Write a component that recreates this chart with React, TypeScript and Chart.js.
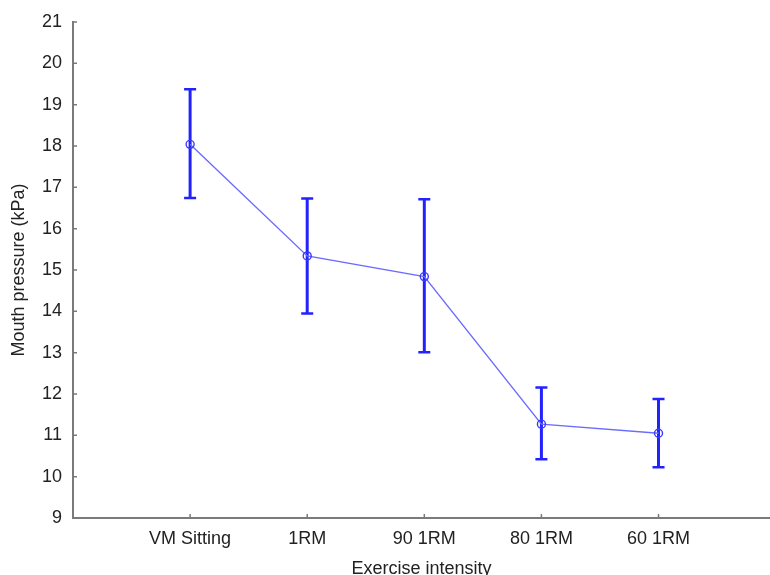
import React, { useEffect, useRef } from "react";
import { Chart, registerables } from "chart.js";

Chart.register(...registerables);

const categories = ["VM Sitting", "1RM", "90 1RM", "80 1RM", "60 1RM"];
const means = [18.04, 15.34, 14.84, 11.27, 11.05];
const upper = [19.37, 16.73, 16.71, 12.16, 11.88];
const lower = [16.74, 13.95, 13.01, 10.42, 10.23];
const yTicks = [9, 10, 11, 12, 13, 14, 15, 16, 17, 18, 19, 20, 21];

const FONT = "'Liberation Sans', Arial, sans-serif";

const extrasPlugin = {
  id: "extras",
  beforeDatasetsDraw(chart: any) {
    const ctx = chart.ctx;
    const xs = chart.scales.x;
    const ys = chart.scales.y;
    ctx.save();
    ctx.strokeStyle = "#2222ff";
    categories.forEach((_, i) => {
      const x = xs.getPixelForValue(i + 1);
      const yt = ys.getPixelForValue(upper[i]);
      const yb = ys.getPixelForValue(lower[i]);
      ctx.lineWidth = 3;
      ctx.beginPath();
      ctx.moveTo(x, yt);
      ctx.lineTo(x, yb);
      ctx.stroke();
      ctx.lineWidth = 2.5;
      ctx.beginPath();
      ctx.moveTo(x - 6, yt);
      ctx.lineTo(x + 6, yt);
      ctx.moveTo(x - 6, yb);
      ctx.lineTo(x + 6, yb);
      ctx.stroke();
    });
    ctx.restore();
  },
  afterDraw(chart: any) {
    const ctx = chart.ctx;
    const xs = chart.scales.x;
    const ys = chart.scales.y;
    const area = chart.chartArea;
    ctx.save();
    ctx.strokeStyle = "#7a7a7a";
    ctx.lineWidth = 1.5;
    ctx.beginPath();
    yTicks.forEach((v) => {
      const y = ys.getPixelForValue(v);
      ctx.moveTo(area.left, y);
      ctx.lineTo(area.left + 4, y);
    });
    categories.forEach((_, i) => {
      const x = xs.getPixelForValue(i + 1);
      ctx.moveTo(x, area.bottom);
      ctx.lineTo(x, area.bottom - 4);
    });
    ctx.stroke();
    ctx.restore();
  },
};

export default function App() {
  const ref = useRef<HTMLCanvasElement | null>(null);

  useEffect(() => {
    document.body.style.margin = "0";
    if (!ref.current) return;
    const chart = new Chart(ref.current, {
      type: "line",
      data: {
        datasets: [
          {
            data: means.map((m, i) => ({ x: i + 1, y: m })),
            borderColor: "#6b6bff",
            borderWidth: 1.4,
            pointRadius: 4,
            pointBorderWidth: 1.4,
            pointBorderColor: "#3a3aff",
            pointBackgroundColor: "rgba(255,255,255,0)",
            fill: false,
            tension: 0,
          },
        ],
      },
      options: {
        responsive: false,
        animation: false,
        layout: { autoPadding: false, padding: { top: 22, right: 0, left: 0, bottom: 0 } },
        plugins: {
          legend: { display: false },
          tooltip: { enabled: false },
        },
        scales: {
          x: {
            type: "linear",
            min: 0,
            max: 5.952,
            afterBuildTicks: (scale: any) => {
              scale.ticks = categories.map((_, i) => ({ value: i + 1 }));
            },
            afterFit: (scale: any) => {
              scale.height = 72;
              scale.paddingLeft = 0;
              scale.paddingRight = 0;
            },
            grid: { display: false, drawTicks: false },
            border: { display: true, color: "#7a7a7a", width: 2 },
            ticks: {
              padding: 10,
              maxRotation: 0,
              autoSkip: false,
              color: "#222",
              font: { family: FONT, size: 18 },
              callback: (v: any) => categories[Number(v) - 1] ?? "",
            },
            title: {
              display: true,
              text: "Exercise intensity",
              color: "#222",
              font: { family: FONT, size: 18 },
              padding: { top: 0, bottom: 10 },
            },
          },
          y: {
            min: 9,
            max: 21,
            afterBuildTicks: (scale: any) => {
              scale.ticks = yTicks.map((v) => ({ value: v }));
            },
            afterFit: (scale: any) => {
              scale.width = 73;
            },
            grid: { display: false, drawTicks: false },
            border: { display: true, color: "#7a7a7a", width: 2 },
            ticks: {
              padding: 11,
              color: "#222",
              font: { family: FONT, size: 18 },
            },
            title: {
              display: true,
              text: "Mouth pressure (kPa)",
              color: "#222",
              font: { family: FONT, size: 18 },
              padding: { top: 8, bottom: 0 },
            },
          },
        },
      },
      plugins: [extrasPlugin],
    } as any);
    return () => chart.destroy();
  }, []);

  return (
    <div
      style={{
        position: "absolute",
        left: 0,
        top: 0,
        width: 770,
        height: 575,
        overflow: "hidden",
        background: "#fff",
      }}
    >
      <canvas ref={ref} width={770} height={590} style={{ display: "block", width: 770, height: 590 }} />
    </div>
  );
}
